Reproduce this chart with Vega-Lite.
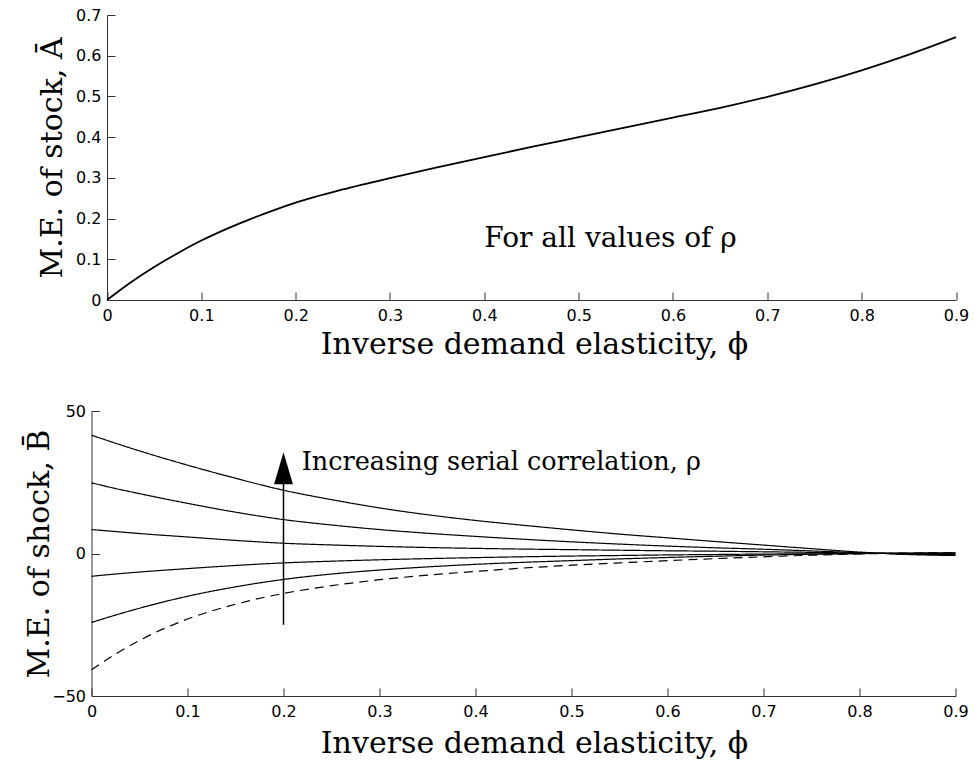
{
  "$schema": "https://vega.github.io/schema/vega-lite/v6.json",
  "background": "white",
  "padding": {"left": 23.5, "top": 7, "right": 8, "bottom": 5},
  "config": {
    "view": {"stroke": null},
    "axis": {
      "domainColor": "#333333", "tickColor": "#333333", "domainWidth": 1, "tickWidth": 1,
      "tickSize": -8, "grid": false,
      "labelFont": "DejaVu Sans", "labelFontSize": 16, "labelColor": "#000000",
      "labelFlush": false, "labelOverlap": false,
      "titleFont": "DejaVu Serif", "titleFontSize": 30, "titleFontWeight": "normal", "titleColor": "#000000"
    }
  },
  "datasets": {
    "top": [
      {"phi": 0, "A": 0}, {"phi": 0.025, "A": 0.043}, {"phi": 0.05, "A": 0.081}, {"phi": 0.075, "A": 0.115},
      {"phi": 0.1, "A": 0.146}, {"phi": 0.125, "A": 0.173}, {"phi": 0.15, "A": 0.197}, {"phi": 0.175, "A": 0.219},
      {"phi": 0.2, "A": 0.239}, {"phi": 0.25, "A": 0.2715}, {"phi": 0.3, "A": 0.2995}, {"phi": 0.35, "A": 0.3255},
      {"phi": 0.4, "A": 0.351}, {"phi": 0.45, "A": 0.376}, {"phi": 0.5, "A": 0.400}, {"phi": 0.55, "A": 0.424},
      {"phi": 0.6, "A": 0.448}, {"phi": 0.65, "A": 0.472}, {"phi": 0.7, "A": 0.499}, {"phi": 0.75, "A": 0.5295},
      {"phi": 0.8, "A": 0.564}, {"phi": 0.85, "A": 0.6025}, {"phi": 0.9, "A": 0.6455}
    ],
    "bottom": [
      {"curve": "1", "style": "solid", "phi": 0, "B": 41.5}, {"curve": "1", "style": "solid", "phi": 0.025, "B": 38.7},
      {"curve": "1", "style": "solid", "phi": 0.05, "B": 36.0}, {"curve": "1", "style": "solid", "phi": 0.1, "B": 31.0},
      {"curve": "1", "style": "solid", "phi": 0.15, "B": 26.4}, {"curve": "1", "style": "solid", "phi": 0.2, "B": 22.2},
      {"curve": "1", "style": "solid", "phi": 0.25, "B": 18.9}, {"curve": "1", "style": "solid", "phi": 0.3, "B": 16.0},
      {"curve": "1", "style": "solid", "phi": 0.35, "B": 13.6}, {"curve": "1", "style": "solid", "phi": 0.4, "B": 11.6},
      {"curve": "1", "style": "solid", "phi": 0.45, "B": 9.9}, {"curve": "1", "style": "solid", "phi": 0.5, "B": 8.3},
      {"curve": "1", "style": "solid", "phi": 0.55, "B": 6.8}, {"curve": "1", "style": "solid", "phi": 0.6, "B": 5.5},
      {"curve": "1", "style": "solid", "phi": 0.65, "B": 4.2}, {"curve": "1", "style": "solid", "phi": 0.7, "B": 2.95},
      {"curve": "1", "style": "solid", "phi": 0.75, "B": 1.7}, {"curve": "1", "style": "solid", "phi": 0.8, "B": 0.5},
      {"curve": "1", "style": "solid", "phi": 0.85, "B": -0.35}, {"curve": "1", "style": "solid", "phi": 0.9, "B": -0.7},

      {"curve": "2", "style": "solid", "phi": 0, "B": 24.8}, {"curve": "2", "style": "solid", "phi": 0.025, "B": 22.8},
      {"curve": "2", "style": "solid", "phi": 0.05, "B": 21.0}, {"curve": "2", "style": "solid", "phi": 0.1, "B": 17.6},
      {"curve": "2", "style": "solid", "phi": 0.15, "B": 14.5}, {"curve": "2", "style": "solid", "phi": 0.2, "B": 11.9},
      {"curve": "2", "style": "solid", "phi": 0.25, "B": 10.0}, {"curve": "2", "style": "solid", "phi": 0.3, "B": 8.4},
      {"curve": "2", "style": "solid", "phi": 0.35, "B": 7.1}, {"curve": "2", "style": "solid", "phi": 0.4, "B": 6.0},
      {"curve": "2", "style": "solid", "phi": 0.45, "B": 5.0}, {"curve": "2", "style": "solid", "phi": 0.5, "B": 4.1},
      {"curve": "2", "style": "solid", "phi": 0.55, "B": 3.3}, {"curve": "2", "style": "solid", "phi": 0.6, "B": 2.6},
      {"curve": "2", "style": "solid", "phi": 0.65, "B": 2.0}, {"curve": "2", "style": "solid", "phi": 0.7, "B": 1.5},
      {"curve": "2", "style": "solid", "phi": 0.75, "B": 0.9}, {"curve": "2", "style": "solid", "phi": 0.8, "B": 0.3},
      {"curve": "2", "style": "solid", "phi": 0.85, "B": -0.2}, {"curve": "2", "style": "solid", "phi": 0.9, "B": -0.45},

      {"curve": "3", "style": "solid", "phi": 0, "B": 8.4}, {"curve": "3", "style": "solid", "phi": 0.025, "B": 7.7},
      {"curve": "3", "style": "solid", "phi": 0.05, "B": 7.0}, {"curve": "3", "style": "solid", "phi": 0.1, "B": 5.8},
      {"curve": "3", "style": "solid", "phi": 0.15, "B": 4.6}, {"curve": "3", "style": "solid", "phi": 0.2, "B": 3.6},
      {"curve": "3", "style": "solid", "phi": 0.25, "B": 3.0}, {"curve": "3", "style": "solid", "phi": 0.3, "B": 2.5},
      {"curve": "3", "style": "solid", "phi": 0.35, "B": 2.1}, {"curve": "3", "style": "solid", "phi": 0.4, "B": 1.8},
      {"curve": "3", "style": "solid", "phi": 0.45, "B": 1.55}, {"curve": "3", "style": "solid", "phi": 0.5, "B": 1.35},
      {"curve": "3", "style": "solid", "phi": 0.55, "B": 1.15}, {"curve": "3", "style": "solid", "phi": 0.6, "B": 0.95},
      {"curve": "3", "style": "solid", "phi": 0.65, "B": 0.8}, {"curve": "3", "style": "solid", "phi": 0.7, "B": 0.6},
      {"curve": "3", "style": "solid", "phi": 0.75, "B": 0.4}, {"curve": "3", "style": "solid", "phi": 0.8, "B": 0.15},
      {"curve": "3", "style": "solid", "phi": 0.85, "B": -0.05}, {"curve": "3", "style": "solid", "phi": 0.9, "B": -0.2},

      {"curve": "4", "style": "solid", "phi": 0, "B": -8.0}, {"curve": "4", "style": "solid", "phi": 0.025, "B": -7.2},
      {"curve": "4", "style": "solid", "phi": 0.05, "B": -6.5}, {"curve": "4", "style": "solid", "phi": 0.1, "B": -5.3},
      {"curve": "4", "style": "solid", "phi": 0.15, "B": -4.2}, {"curve": "4", "style": "solid", "phi": 0.2, "B": -3.3},
      {"curve": "4", "style": "solid", "phi": 0.25, "B": -2.7}, {"curve": "4", "style": "solid", "phi": 0.3, "B": -2.2},
      {"curve": "4", "style": "solid", "phi": 0.35, "B": -1.8}, {"curve": "4", "style": "solid", "phi": 0.4, "B": -1.45},
      {"curve": "4", "style": "solid", "phi": 0.45, "B": -1.15}, {"curve": "4", "style": "solid", "phi": 0.5, "B": -0.9},
      {"curve": "4", "style": "solid", "phi": 0.55, "B": -0.7}, {"curve": "4", "style": "solid", "phi": 0.6, "B": -0.5},
      {"curve": "4", "style": "solid", "phi": 0.65, "B": -0.35}, {"curve": "4", "style": "solid", "phi": 0.7, "B": -0.2},
      {"curve": "4", "style": "solid", "phi": 0.75, "B": -0.1}, {"curve": "4", "style": "solid", "phi": 0.8, "B": -0.02},
      {"curve": "4", "style": "solid", "phi": 0.85, "B": 0.05}, {"curve": "4", "style": "solid", "phi": 0.9, "B": 0.1},

      {"curve": "5", "style": "solid", "phi": 0, "B": -24.2}, {"curve": "5", "style": "solid", "phi": 0.025, "B": -21.6},
      {"curve": "5", "style": "solid", "phi": 0.05, "B": -19.2}, {"curve": "5", "style": "solid", "phi": 0.1, "B": -15.0},
      {"curve": "5", "style": "solid", "phi": 0.15, "B": -11.7}, {"curve": "5", "style": "solid", "phi": 0.2, "B": -9.1},
      {"curve": "5", "style": "solid", "phi": 0.25, "B": -7.2}, {"curve": "5", "style": "solid", "phi": 0.3, "B": -5.8},
      {"curve": "5", "style": "solid", "phi": 0.35, "B": -4.7}, {"curve": "5", "style": "solid", "phi": 0.4, "B": -3.8},
      {"curve": "5", "style": "solid", "phi": 0.45, "B": -3.1}, {"curve": "5", "style": "solid", "phi": 0.5, "B": -2.5},
      {"curve": "5", "style": "solid", "phi": 0.55, "B": -1.9}, {"curve": "5", "style": "solid", "phi": 0.6, "B": -1.4},
      {"curve": "5", "style": "solid", "phi": 0.65, "B": -0.95}, {"curve": "5", "style": "solid", "phi": 0.7, "B": -0.55},
      {"curve": "5", "style": "solid", "phi": 0.75, "B": -0.25}, {"curve": "5", "style": "solid", "phi": 0.8, "B": -0.03},
      {"curve": "5", "style": "solid", "phi": 0.85, "B": 0.15}, {"curve": "5", "style": "solid", "phi": 0.9, "B": 0.25},

      {"curve": "6", "style": "dashed", "phi": 0, "B": -40.8}, {"curve": "6", "style": "dashed", "phi": 0.025, "B": -35.3},
      {"curve": "6", "style": "dashed", "phi": 0.05, "B": -30.5}, {"curve": "6", "style": "dashed", "phi": 0.1, "B": -23.0},
      {"curve": "6", "style": "dashed", "phi": 0.15, "B": -17.8}, {"curve": "6", "style": "dashed", "phi": 0.2, "B": -14.0},
      {"curve": "6", "style": "dashed", "phi": 0.25, "B": -11.3}, {"curve": "6", "style": "dashed", "phi": 0.3, "B": -9.2},
      {"curve": "6", "style": "dashed", "phi": 0.35, "B": -7.6}, {"curve": "6", "style": "dashed", "phi": 0.4, "B": -6.3},
      {"curve": "6", "style": "dashed", "phi": 0.45, "B": -5.1}, {"curve": "6", "style": "dashed", "phi": 0.5, "B": -4.1},
      {"curve": "6", "style": "dashed", "phi": 0.55, "B": -3.3}, {"curve": "6", "style": "dashed", "phi": 0.6, "B": -2.5},
      {"curve": "6", "style": "dashed", "phi": 0.65, "B": -1.8}, {"curve": "6", "style": "dashed", "phi": 0.7, "B": -1.15},
      {"curve": "6", "style": "dashed", "phi": 0.75, "B": -0.6}, {"curve": "6", "style": "dashed", "phi": 0.8, "B": -0.15},
      {"curve": "6", "style": "dashed", "phi": 0.85, "B": 0.15}, {"curve": "6", "style": "dashed", "phi": 0.9, "B": 0.3}
    ],
    "topnote": [{"phi": 0.4, "v": 0.129, "label": "For all values of ρ"}],
    "bottomnote": [{"phi": 0.219, "v": 29.3, "label": "Increasing serial correlation, ρ"}],
    "arrow": [{"phi": 0.2, "y1": -25, "y2": 25, "head": 29.9}]
  },
  "vconcat": [
    {
      "width": 865, "height": 285,
      "layer": [
        {
          "data": {"name": "top"},
          "mark": {"type": "line", "color": "black", "strokeWidth": 1.8, "interpolate": "monotone"},
          "encoding": {
            "x": {"field": "phi", "type": "quantitative",
              "scale": {"domain": [0, 0.9], "range": [15.5, 864.5], "nice": false, "zero": false},
              "axis": {"values": [0, 0.1, 0.2, 0.3, 0.4, 0.5, 0.6, 0.7, 0.8, 0.9], "format": "~g",
                "title": "Inverse demand elasticity, ϕ", "labelPadding": 15,
                "titleX": 442.5, "titleAlign": "center", "titleY": 53, "titleBaseline": "alphabetic"}},
            "y": {"field": "A", "type": "quantitative",
              "scale": {"domain": [0, 0.7], "nice": false},
              "axis": {"values": [0, 0.1, 0.2, 0.3, 0.4, 0.5, 0.6, 0.7], "format": "~g",
                "title": "M.E. of stock, Ā", "labelPadding": 14, "offset": -15.5,
                "titleX": -46, "titleBaseline": "alphabetic"}}
          }
        },
        {
          "data": {"name": "topnote"},
          "mark": {"type": "text", "font": "DejaVu Serif", "fontSize": 28, "align": "left", "baseline": "alphabetic", "color": "black"},
          "encoding": {
            "x": {"field": "phi", "type": "quantitative",
              "scale": {"domain": [0, 0.9], "range": [15.5, 864.5], "nice": false, "zero": false}},
            "y": {"field": "v", "type": "quantitative"},
            "text": {"field": "label"}
          }
        }
      ]
    },
    {
      "width": 864, "height": 285,
      "layer": [
        {
          "data": {"name": "bottom"},
          "mark": {"type": "line", "color": "black", "strokeWidth": 1.2, "interpolate": "monotone"},
          "encoding": {
            "x": {"field": "phi", "type": "quantitative",
              "scale": {"domain": [0, 0.9], "nice": false, "zero": false},
              "axis": {"values": [0, 0.1, 0.2, 0.3, 0.4, 0.5, 0.6, 0.7, 0.8, 0.9], "format": "~g",
                "title": "Inverse demand elasticity, ϕ", "labelPadding": 15,
                "titleX": 442.5, "titleAlign": "center", "titleY": 56, "titleBaseline": "alphabetic"}},
            "y": {"field": "B", "type": "quantitative",
              "scale": {"domain": [-50, 50], "nice": false},
              "axis": {"values": [-50, 0, 50],
                "title": "M.E. of shock, B̄", "labelPadding": 14,
                "titleX": -43, "titleBaseline": "alphabetic"}},
            "detail": {"field": "curve", "type": "nominal"},
            "strokeDash": {"field": "style", "type": "nominal",
              "scale": {"domain": ["solid", "dashed"], "range": [[1, 0], [9, 6]]}, "legend": null}
          }
        },
        {
          "data": {"name": "arrow"},
          "mark": {"type": "rule", "color": "black", "strokeWidth": 1.5},
          "encoding": {
            "x": {"field": "phi", "type": "quantitative"},
            "y": {"field": "y1", "type": "quantitative"},
            "y2": {"field": "y2"}
          }
        },
        {
          "data": {"name": "arrow"},
          "mark": {"type": "point", "shape": "M0,-1L0.59,1L-0.59,1Z", "filled": true, "color": "black", "opacity": 1, "size": 1024},
          "encoding": {
            "x": {"field": "phi", "type": "quantitative"},
            "y": {"field": "head", "type": "quantitative"}
          }
        },
        {
          "data": {"name": "bottomnote"},
          "mark": {"type": "text", "font": "DejaVu Serif", "fontSize": 25.5, "align": "left", "baseline": "alphabetic", "color": "black"},
          "encoding": {
            "x": {"field": "phi", "type": "quantitative"},
            "y": {"field": "v", "type": "quantitative"},
            "text": {"field": "label"}
          }
        }
      ]
    }
  ],
  "spacing": 44
}
